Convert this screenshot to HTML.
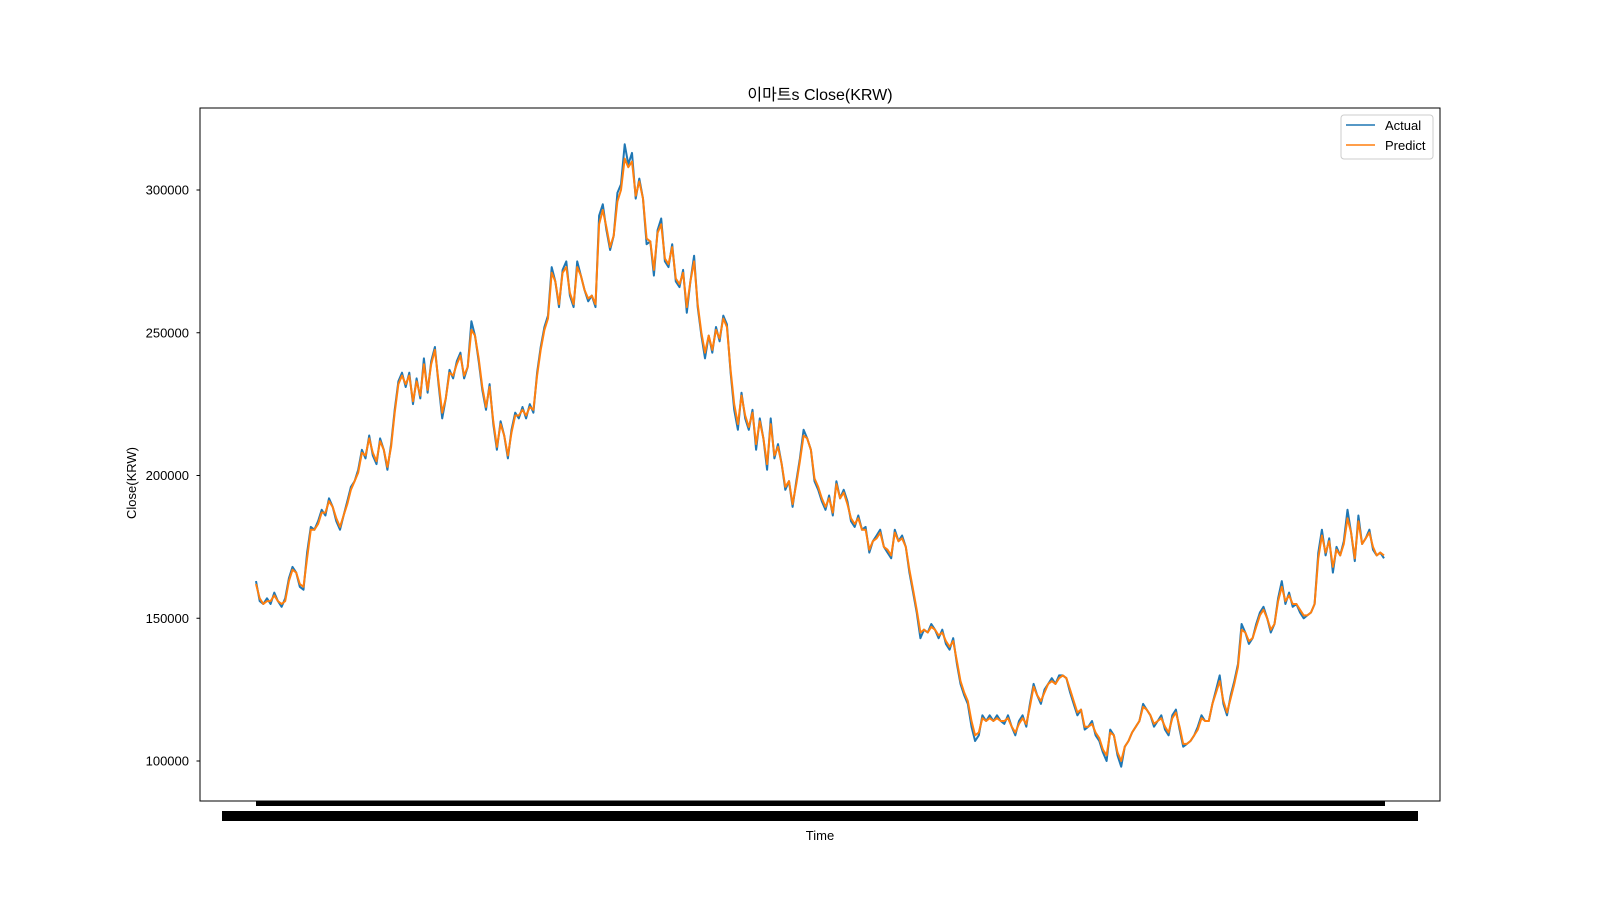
<!DOCTYPE html>
<html><head><meta charset="utf-8"><style>
body{margin:0;background:#fff;}
svg{display:block;font-family:"Liberation Sans","Noto Sans CJK KR",sans-serif;}
</style></head><body>
<svg id="chart" width="1600" height="900" viewBox="0 0 1600 900" xmlns="http://www.w3.org/2000/svg">
<rect x="0" y="0" width="1600" height="900" fill="#fff"/>
<text x="820" y="100" font-size="16" text-anchor="middle" fill="#000" font-family="Liberation Sans, Noto Sans CJK KR, sans-serif">이마트s Close(KRW)</text>
<g id="yaxis"></g>
<g id="series"></g>
<rect x="256" y="801" width="1129" height="5" fill="#000"/>
<rect x="222" y="811" width="1196" height="10" fill="#000"/>
<rect x="200" y="108" width="1240" height="693" fill="none" stroke="#000" stroke-width="1"/>
<text x="820" y="840" font-size="13" text-anchor="middle" fill="#000">Time</text>
<text x="0" y="0" font-size="13" text-anchor="middle" fill="#000" transform="translate(136,483) rotate(-90)">Close(KRW)</text>
<g>
<rect x="1341" y="115" width="92" height="44" rx="3" fill="#fff" stroke="#ccc" stroke-width="1"/>
<line x1="1346" y1="125" x2="1375" y2="125" stroke="#1f77b4" stroke-width="1.5"/>
<text x="1385" y="130" font-size="13" fill="#000">Actual</text>
<line x1="1346" y1="145" x2="1375" y2="145" stroke="#ff7f0e" stroke-width="1.5"/>
<text x="1385" y="150" font-size="13" fill="#000">Predict</text>
</g>
</svg>
<script>
const yTicks=[100000,150000,200000,250000,300000];
const yTickLabels=["100000","150000","200000","250000","300000"];
const actual=[163,156,155,157,155,159,156,154,157,164,168,166,161,160,173,182,181,184,188,186,192,189,184,181,186,191,196,198,202,209,206,214,207,204,213,209,202,211,223,233,236,231,236,225,234,227,241,229,240,245,232,220,227,237,234,240,243,234,238,254,249,240,230,223,232,218,209,219,214,206,216,222,220,224,220,225,222,236,245,252,256,273,268,259,272,275,263,259,275,270,265,261,263,259,291,295,286,279,284,299,302,316,309,313,297,304,297,281,282,270,286,290,275,273,281,268,266,272,257,268,277,259,249,241,249,243,252,247,256,253,236,223,216,229,220,216,223,209,220,213,202,220,206,211,204,195,198,189,198,206,216,213,209,198,195,191,188,193,186,198,192,195,191,184,182,186,181,182,173,177,179,181,175,173,171,181,177,179,175,166,159,152,143,146,145,148,146,143,146,141,139,143,134,127,123,120,112,107,109,116,114,116,114,116,114,113,116,112,109,114,116,112,120,127,123,120,125,127,129,127,130,130,129,124,120,116,118,111,112,114,109,107,103,100,111,109,102,98,105,107,110,112,114,120,118,116,112,114,116,111,109,116,118,111,105,106,107,109,112,116,114,114,120,125,130,120,116,123,128,134,148,145,141,143,148,152,154,150,145,148,157,163,155,159,154,155,152,150,151,152,155,173,181,172,178,166,175,172,177,188,180,170,186,176,178,181,174,172,173,171];
const predict=[162,157,155,156,156,158,156,155,156,163,167,166,162,161,171,181,181,183,187,187,191,189,185,182,186,190,195,198,201,208,207,213,208,205,212,209,203,210,222,232,235,232,235,226,233,228,239,230,239,244,233,222,227,236,235,239,242,235,238,251,249,241,231,224,231,219,210,218,214,207,215,221,221,223,221,224,223,235,244,251,255,271,268,260,271,273,264,260,273,270,265,262,263,260,288,293,287,280,284,296,300,311,308,310,298,303,297,283,282,272,285,288,276,274,280,269,267,271,259,268,275,260,250,243,249,244,251,248,255,252,237,225,218,228,221,217,222,211,219,213,204,218,207,210,204,196,198,190,197,205,214,213,209,199,196,192,189,192,187,197,192,194,190,185,183,185,181,181,174,177,178,180,175,174,172,180,177,178,175,167,160,153,145,146,145,147,146,144,145,142,140,142,135,128,124,121,114,109,110,115,114,115,114,115,114,114,115,112,110,113,115,113,119,126,123,121,124,127,128,127,129,130,129,125,121,117,118,112,112,113,110,108,104,102,110,109,103,100,105,107,110,112,114,119,118,116,113,114,115,112,110,115,117,112,106,106,107,109,111,115,114,114,120,124,128,121,117,122,127,133,146,145,142,143,147,151,153,150,146,148,156,161,156,158,155,155,153,151,151,152,155,171,179,173,177,168,174,172,176,185,180,171,184,176,178,180,175,172,173,172];
const NS="http://www.w3.org/2000/svg";
const X0=256,X1=1384,Y100=761,Y300=190;
function yScale(v){return Y100+(v-100000)*(Y300-Y100)/200000;}
function xScale(i,n){return X0+i*(X1-X0)/(n-1);}
const yaxis=document.getElementById('yaxis');
yTicks.forEach((t,i)=>{
  const y=yScale(t);
  const ln=document.createElementNS(NS,'line');
  ln.setAttribute('x1',196.5);ln.setAttribute('x2',200);ln.setAttribute('y1',y);ln.setAttribute('y2',y);
  ln.setAttribute('stroke','#000');
  
  
  yaxis.appendChild(ln);
  const tx=document.createElementNS(NS,'text');
  tx.setAttribute('x',189);tx.setAttribute('y',y+4.5);tx.setAttribute('font-size','13');tx.setAttribute('text-anchor','end');
  tx.textContent=yTickLabels[i];
  
  
  yaxis.appendChild(tx);
});
function drawLine(arr,color,name){
  const n=arr.length;
  const pts=arr.map((v,i)=>xScale(i,n).toFixed(1)+','+yScale(v*1000).toFixed(1)).join(' ');
  const pl=document.createElementNS(NS,'polyline');
  pl.setAttribute('points',pts);pl.setAttribute('fill','none');pl.setAttribute('stroke',color);
  pl.setAttribute('stroke-width','2');pl.setAttribute('stroke-linejoin','round');
  
  
  document.getElementById('series').appendChild(pl);
}
drawLine(actual,'#1f77b4','actual-line');
drawLine(predict,'#ff7f0e','predict-line');
</script>
</body></html>
